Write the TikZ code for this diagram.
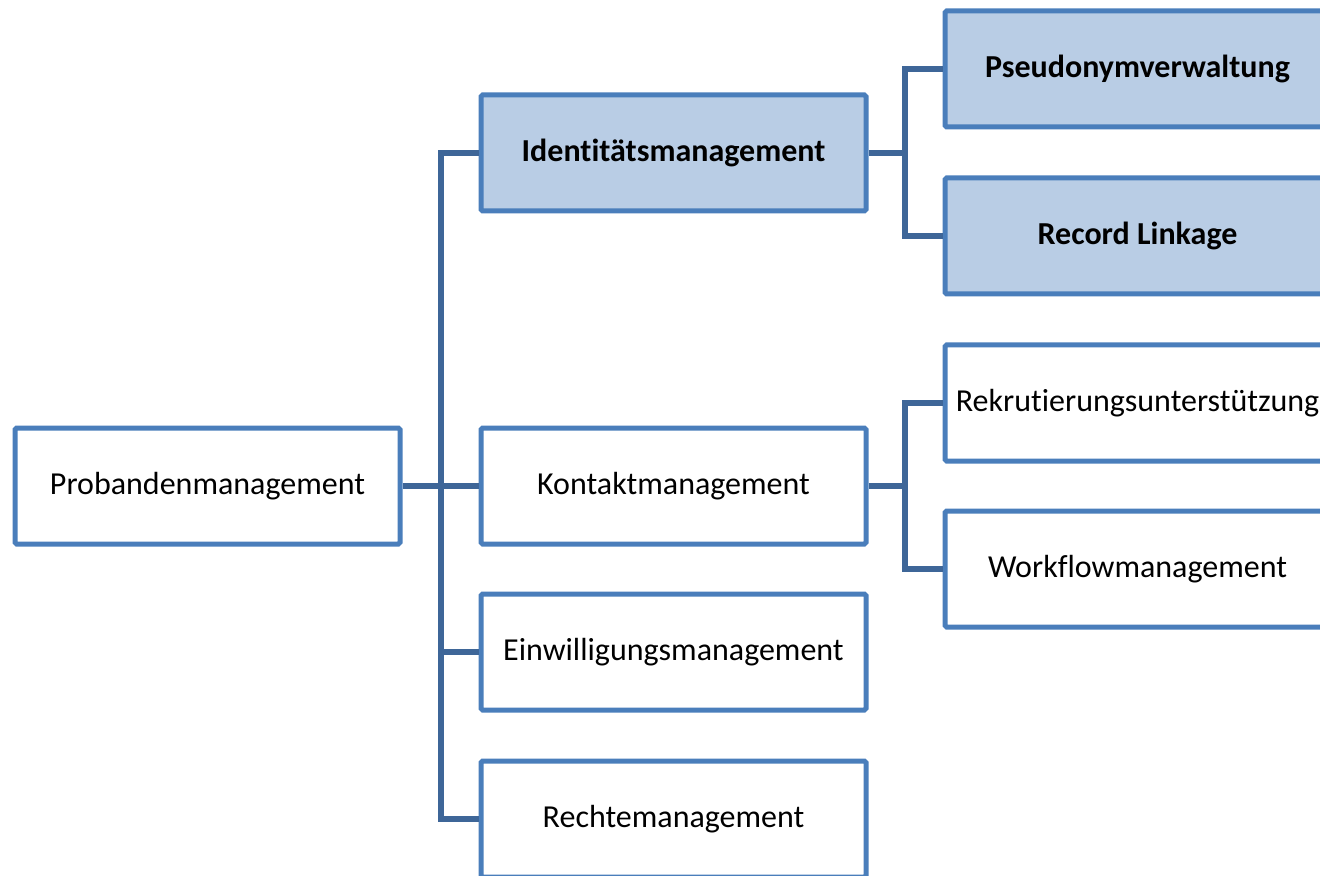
\documentclass[tikz,border=0pt]{standalone}
\usepackage{fontspec}
\setmainfont[RawFeature=-liga]{Carlito}
\definecolor{bord}{RGB}{74,126,187}
\definecolor{conn}{RGB}{62,102,152}
\definecolor{lblue}{RGB}{185,205,229}
\begin{document}
\begin{tikzpicture}[x=0.5pt,y=-0.5pt,
  box/.style={draw=bord, line width=2.5pt, fill=white, rounded corners=0.8pt,
    minimum width=192.5pt, minimum height=58pt, inner sep=0pt, yshift=-1pt,
    font=\fontsize{16}{19}\selectfont},
  hbox/.style={box, fill=lblue, font=\fontsize{16}{19}\selectfont\bfseries},
  link/.style={draw=conn, line width=2.7pt}]
\useasboundingbox (0,0) rectangle (1320,876);
\clip (0,0) rectangle (1320,876);
\node[box]  (prob)  at (207.5,484) {Probandenmanagement};
\node[hbox] (ident) at (673.5,151) {Identitätsmanagement};
\node[box]  (kont)  at (673.5,484) {Kontaktmanagement};
\node[box]  (einw)  at (673.5,650) {Einwilligungsmanagement};
\node[box]  (recht) at (673.5,817) {Rechtemanagement};
\node[hbox] (pseu)  at (1137.5,67) {Pseudonymverwaltung};
\node[hbox] (rec)   at (1137.5,234) {Record Linkage};
\node[box]  (rekr)  at (1137.5,401) {Rekrutierungsunterstützung};
\node[box]  (work)  at (1137.5,567) {Workflowmanagement};
\coordinate (t1) at (441,153);
\coordinate (t2) at (441,819);
\coordinate (r1) at (905,69);
\coordinate (r2) at (905,236);
\coordinate (k1) at (905,403);
\coordinate (k2) at (905,569);
\path[link] (prob.east) -- (kont.west);
\path[link] (ident.west) -- (t1) -- (t2) -- (recht.west);
\path[link] (t1 |- einw.west) -- (einw.west);
\path[link] (ident.east) -- (ident.east -| r1);
\path[link] (pseu.west) -- (r1) -- (r2) -- (rec.west);
\path[link] (kont.east) -- (kont.east -| k1);
\path[link] (rekr.west) -- (k1) -- (k2) -- (work.west);
\end{tikzpicture}
\end{document}
